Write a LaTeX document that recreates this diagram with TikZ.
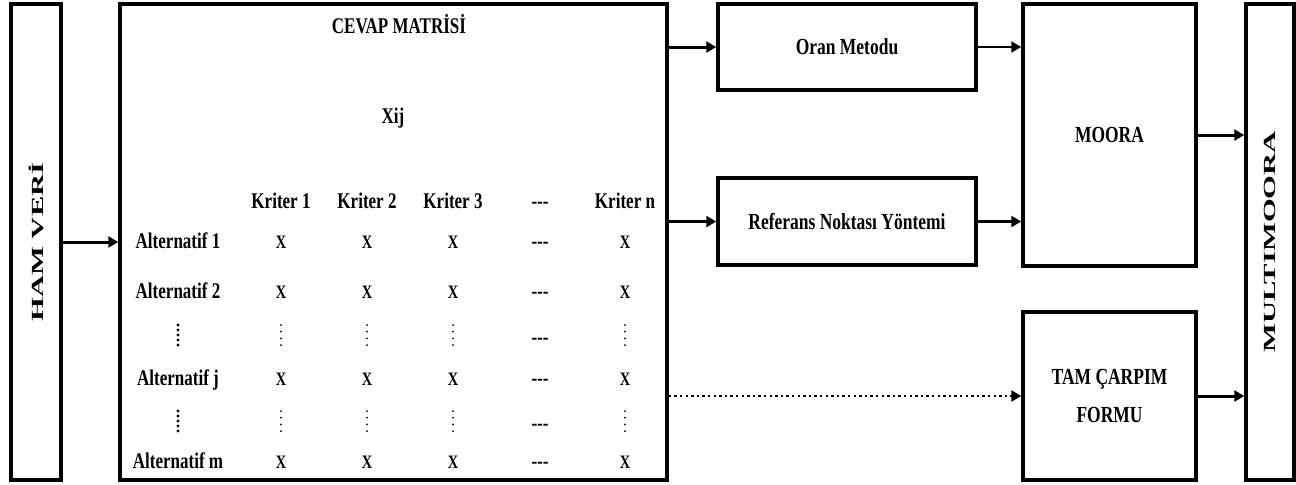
\documentclass[tikz,border=0pt]{standalone}
\usepackage{fontspec}
\setmainfont{Liberation Serif}
\newfontfamily\narrowfont{Liberation Serif}[FakeStretch=0.76]
\newfontfamily\widefont{Liberation Serif}[FakeStretch=1.8]
\usetikzlibrary{arrows.meta,calc}
\def\CxA{281}
\def\CxB{367}
\def\CxC{453}
\def\CxD{540}
\def\CxE{625}
\def\AltX{178}
\tikzset{
  blk/.style={
    draw, line width=1.75pt, inner sep=0pt, align=center,
    font=\narrowfont\bfseries\fontsize{11.5}{19}\selectfont,
  },
  side/.style={blk, font=\widefont\bfseries\fontsize{8.5}{10}\selectfont},
  cell/.style={
    font=\narrowfont\bfseries\fontsize{11.2}{13}\selectfont, inner sep=0pt,
    text height=7.5pt, text depth=2.2pt,
  },
  ent/.style={cell, font=\narrowfont\bfseries\fontsize{9.5}{11}\selectfont},
  arr/.style={-{Triangle[length=5pt,width=5.5pt]}, line width=1.5pt},
  thinarr/.style={arr, line width=1.1pt},
  dotarr/.style={-{Triangle[length=5pt,width=5.5pt]}, line width=1.2pt,
    dash pattern=on 1.2pt off 1.6pt},
}
\begin{document}
\begin{tikzpicture}[x=0.5pt,y=-0.5pt]
  \useasboundingbox (0,0) rectangle (1296,484);

  \node[side, minimum width=25pt, minimum height=238pt] (ham) at (36,242) {\rotatebox{90}{HAM VERİ}};
  \node[blk, minimum width=273.5pt, minimum height=238pt] (cevap) at (393.5,242) {};
  \node[blk, minimum width=129pt, minimum height=43pt] (oran) at (847,47) {Oran Metodu};
  \node[blk, minimum width=129pt, minimum height=43.5pt] (refn) at (847,221.5) {Referans Noktası Yöntemi};
  \node[blk, minimum width=86.5pt, minimum height=131pt] (moora) at (1109.5,135) {MOORA};
  \node[blk, minimum width=86.5pt, minimum height=84pt] (tam) at (1109.5,396) {TAM ÇARPIM\\FORMU};
  \node[side, minimum width=24pt, minimum height=238pt] (multi) at (1270,242) {\rotatebox{90}{MULTIMOORA}};

  % matrix inside the answer box
  \node[cell] (title) at (399,28) {CEVAP MATRİSİ};
  \node[cell] (xij) at (393,118) {Xij};
  \foreach \k/\x in {1/\CxA,2/\CxB,3/\CxC}
    \node[cell] (k\k) at (\x,203) {Kriter \k};
  \node[cell] (kd) at (\CxD,203) {-{}-{}-};
  \node[cell] (kn) at (\CxE,203) {Kriter n};
  \foreach \r/\y in {1/243,2/293,j/380,m/463} {
    \node[cell] (a\r) at (\AltX,\y) {Alternatif \r};
    \foreach \c/\x in {1/\CxA,2/\CxB,3/\CxC,n/\CxE}
      \node[ent] (x\r\c) at (\x,\y) {X};
    \node[cell] (d\r) at (\CxD,\y) {-{}-{}-};
  }
  % rows of vertical dots
  \foreach \r/\y/\yd in {p/335/339,q/421/425} {
    \coordinate (a\r) at (\AltX,\y);
    \foreach \k in {-10,-5,0,5,10}
      \fill ($(a\r)+(0,\k)$) circle (0.85pt);
    \foreach \c/\x in {1/\CxA,2/\CxB,3/\CxC,n/\CxE} {
      \coordinate (x\r\c) at (\x,\y);
      \foreach \k in {-10,-3.3,3.3,10}
        \fill ($(x\r\c)+(0,\k)$) circle (0.5pt);
    }
    \node[cell] (d\r) at (\CxD,\yd) {-{}-{}-};
  }

  \draw[arr] (ham.east) -- (cevap.west);
  \draw[arr] (oran.west -| cevap.east) -- (oran.west);
  \draw[arr] (refn.west -| cevap.east) -- (refn.west);
  \draw[dotarr] (tam.west -| cevap.east) -- (tam.west);
  \draw[thinarr] (oran.east) -- (oran.east -| moora.west);
  \draw[thinarr] (refn.east) -- (refn.east -| moora.west);
  \draw[arr] (moora.east) -- (moora.east -| multi.west);
  \draw[arr] (tam.east) -- (tam.east -| multi.west);
\end{tikzpicture}
\end{document}
